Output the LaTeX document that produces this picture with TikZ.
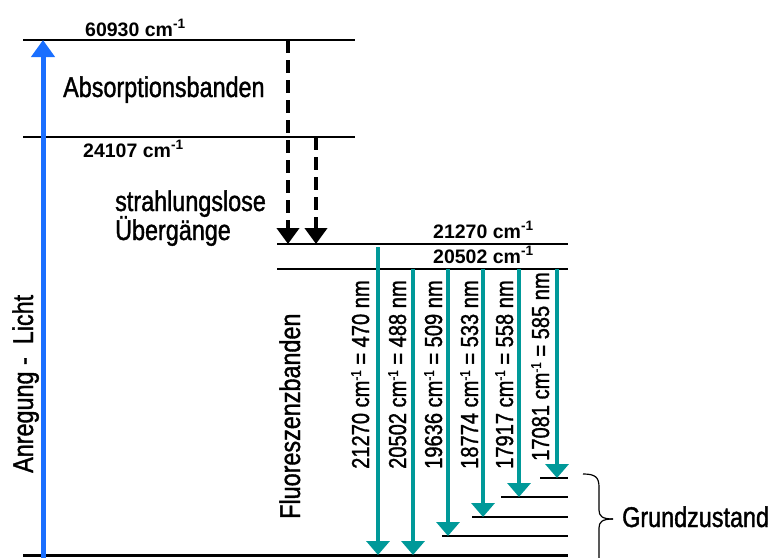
\documentclass[tikz,border=0pt]{standalone}
\usepackage{fontspec}
\setmainfont{Liberation Sans}
\newfontfamily\narrowfont{Liberation Sans}[FakeStretch=0.82,FakeBold=1.3]
\usetikzlibrary{arrows.meta}
\definecolor{flteal}{HTML}{009999}
\definecolor{exblue}{HTML}{1A6FFF}
\newcommand\smsup[1]{\raisebox{0.33em}{\scalebox{0.58}{#1}}}
\begin{document}
\begin{tikzpicture}[x=1pt,y=-1pt,
  lvl/.style={line width=1.4pt},
  big/.style={font=\narrowfont\fontsize{28.5}{30}\selectfont, inner sep=0pt},
  wl/.style={font=\narrowfont\fontsize{24.5}{26}\selectfont, inner sep=0pt, anchor=base west, rotate=90},
  cmlab/.style={font=\bfseries\fontsize{19.5}{21}\selectfont, inner sep=0pt, anchor=base west},
  flarrow/.style={draw=flteal, line width=4.5pt, -{Triangle[width=23pt,length=14pt]}},
  nrarrow/.style={draw=black, line width=4pt, dash pattern=on 13pt off 7pt, -{Triangle[width=22pt,length=16pt]}},
  exarrow/.style={draw=exblue, line width=5pt, -{Triangle[width=23pt,length=17pt]}},
]
\useasboundingbox (0,0) rectangle (776,557);
\clip (0,0) rectangle (776,557);

% energy levels
\draw[lvl] (23,40) -- (355,40);
\draw[lvl] (23,137) -- (355,137);
\draw[lvl] (277,244) -- (568,244);
\draw[lvl] (277,269) -- (568,269);
\draw[line width=3pt] (23,555) -- (568,555);
\draw[lvl] (442,536) -- (568,536);
\draw[lvl] (472,517) -- (568,517);
\draw[lvl] (501,497) -- (568,497);
\draw[lvl] (540,478) -- (568,478);

% coordinates
\coordinate (exS) at (43,562);
\coordinate (exE) at (43,40);
\coordinate (n1S) at (288,40);
\coordinate (n1E) at (288,244);
\coordinate (n2S) at (316,137);
\coordinate (n2E) at (316,244);
\coordinate (f1S) at (378,247);
\coordinate (f1E) at (378,555);
\coordinate (f2S) at (413,269);
\coordinate (f2E) at (413,555);
\coordinate (f3S) at (448,269);
\coordinate (f3E) at (448,536);
\coordinate (f4S) at (483,269);
\coordinate (f4E) at (483,517);
\coordinate (f5S) at (519,269);
\coordinate (f5E) at (519,497);
\coordinate (f6S) at (557,269);
\coordinate (f6E) at (557,478);

% arrows
\draw[exarrow] (exS) -- (exE);
\draw[nrarrow] (n1S) -- (n1E);
\draw[nrarrow] (n2S) -- (n2E);
\draw[flarrow] (f1S) -- (f1E);
\draw[flarrow] (f2S) -- (f2E);
\draw[flarrow] (f3S) -- (f3E);
\draw[flarrow] (f4S) -- (f4E);
\draw[flarrow] (f5S) -- (f5E);
\draw[flarrow] (f6S) -- (f6E);

% level labels
\node[cmlab] (l60930) at (85,36) {60930 cm\textsuperscript{-1}};
\node[cmlab] (l24107) at (83,157) {24107 cm\textsuperscript{-1}};
\node[cmlab] (l21270) at (433,238) {21270 cm\textsuperscript{-1}};
\node[cmlab] (l20502) at (433,263) {20502 cm\textsuperscript{-1}};

% texts
\node[big, anchor=base west] (absorb) at (63,97) {Absorptionsbanden};
\node[big, anchor=base west] (strl) at (115,211) {strahlungslose};
\node[big, anchor=base west] (uebg) at (115,240) {Übergänge};
\node[big, anchor=base west, rotate=90] (anreg) at (33,473) {Anregung - \ Licht};
\node[big, anchor=base west, rotate=90] (fluor) at (300,519) {Fluoreszenzbanden};
\node[big, anchor=base west] (grund) at (622,527) {Grundzustand};

% fluorescence labels
\node[wl] (t1) at (369,469) {21270 cm\smsup{-1} = 470 nm};
\node[wl] (t2) at (406,469) {20502 cm\smsup{-1} = 488 nm};
\node[wl] (t3) at (442,469) {19636 cm\smsup{-1} = 509 nm};
\node[wl] (t4) at (478,469) {18774 cm\smsup{-1} = 533 nm};
\node[wl] (t5) at (513,469) {17917 cm\smsup{-1} = 558 nm};
\node[wl] (t6) at (549,461) {17081 cm\smsup{-1} = 585 nm};

% brace
\coordinate (brTop) at (583,474);
\coordinate (brTip) at (613,519);
\coordinate (brBot) at (599,575);
\draw[line width=1.2pt] (brTop) .. controls (595,474) and (599,477) .. (599,487) -- (599,510)
  .. controls (599,516) and (602,519) .. (brTip);
\draw[line width=1.2pt] (brTip) .. controls (602,519) and (599,522) .. (599,528) -- (brBot);
\end{tikzpicture}
\end{document}
